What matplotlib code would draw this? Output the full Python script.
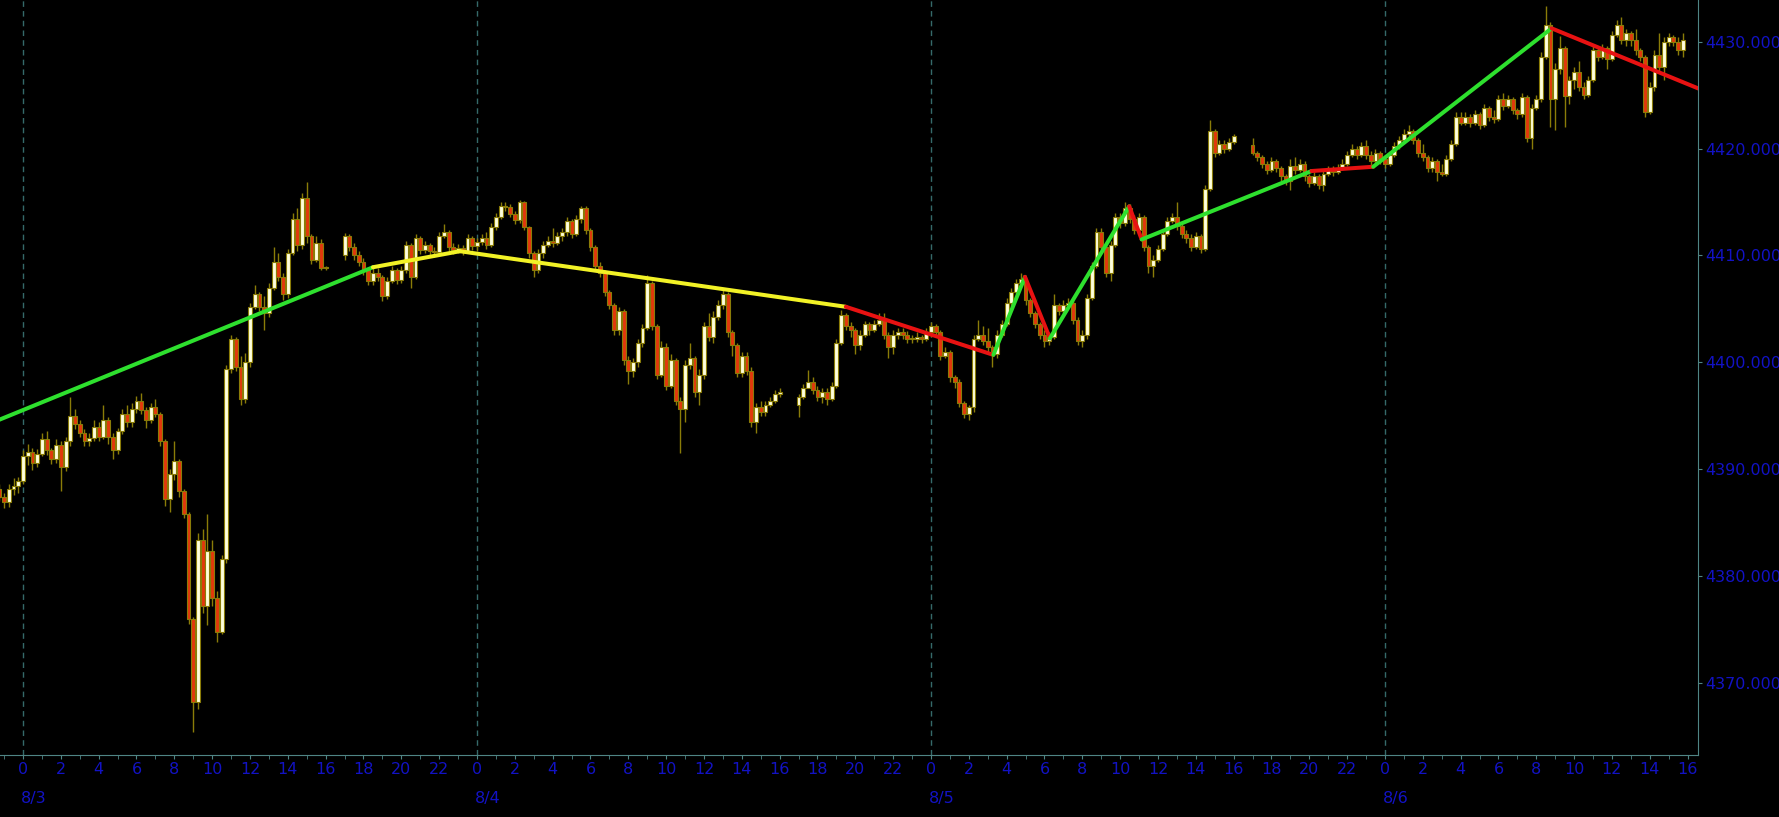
import matplotlib
matplotlib.use('Agg')
import matplotlib.pyplot as plt
from matplotlib.ticker import FixedLocator, FuncFormatter
from matplotlib.transforms import blended_transform_factory

# 15 minute candles, time axis = hours since 8/3 00:00
# each session: first candle time, first open, then close / high / low per candle
s1_start = -1.25
s1_open = 4388.2
s1_close = [4387.4, 4386.9, 4388.2, 4388.4, 4388.9,
            4391.2, 4391.6, 4390.6, 4391.4, 4392.8, 4391.8, 4391.0, 4392.3,
            4390.2, 4392.6, 4395.0, 4394.2, 4393.4, 4392.6, 4392.9, 4394.0,
            4393.0, 4394.6, 4393.0, 4391.8, 4393.6, 4395.2, 4394.4, 4395.6,
            4396.4, 4395.5, 4394.6, 4395.8, 4395.2, 4392.6, 4387.2, 4389.6,
            4390.8, 4388.0, 4385.8, 4376.0, 4368.2, 4383.4, 4377.2, 4382.4,
            4378.0, 4374.8, 4381.6, 4399.4, 4402.2, 4399.6, 4396.6, 4400.0,
            4405.2, 4406.4, 4405.2, 4404.6, 4407.0, 4409.4, 4408.0, 4406.4,
            4410.2, 4413.4, 4411.0, 4415.4, 4411.8, 4409.6, 4411.2, 4408.8,
            4408.8]
s1_high = [4388.6, 4387.8, 4388.6, 4389.2, 4389.3,
           4391.8, 4392.4, 4392.0, 4391.9, 4393.4, 4393.6, 4392.0, 4392.8,
           4392.6, 4393.0, 4396.8, 4395.6, 4394.6, 4393.8, 4393.4, 4394.6,
           4394.4, 4396.0, 4394.9, 4393.4, 4393.9, 4395.6, 4396.0, 4396.2,
           4396.9, 4397.1, 4395.8, 4396.2, 4396.6, 4395.4, 4392.8, 4390.0,
           4392.6, 4391.0, 4388.2, 4386.0, 4376.2, 4384.0, 4384.4, 4385.8,
           4383.4, 4378.6, 4382.0, 4399.8, 4402.6, 4402.4, 4400.6, 4400.9,
           4405.6, 4407.2, 4406.6, 4406.2, 4407.4, 4410.8, 4410.2, 4408.4,
           4410.6, 4414.0, 4414.4, 4415.8, 4416.9, 4412.0, 4411.8, 4411.5,
           4409.0]
s1_low = [4387.0, 4386.4, 4386.5, 4387.6, 4387.8,
          4388.6, 4390.4, 4389.9, 4390.2, 4391.2, 4391.3, 4390.5, 4390.6,
          4388.0, 4389.8, 4392.2, 4393.8, 4393.0, 4392.2, 4392.2, 4392.6,
          4392.6, 4392.8, 4392.4, 4391.0, 4391.4, 4393.3, 4394.0, 4394.0,
          4395.3, 4395.2, 4393.9, 4394.3, 4394.9, 4392.2, 4386.6, 4386.0,
          4389.0, 4387.4, 4385.4, 4375.5, 4365.4, 4367.6, 4376.6, 4375.4,
          4377.2, 4373.8, 4374.6, 4381.2, 4399.0, 4399.2, 4396.0, 4396.2,
          4399.6, 4405.0, 4404.8, 4403.0, 4404.2, 4406.8, 4407.6, 4405.8,
          4406.0, 4410.0, 4410.4, 4410.6, 4411.2, 4409.2, 4409.4, 4408.6,
          4408.6]

s2_start = 17.0
s2_open = 4410.0
s2_close = [4411.8, 4410.8, 4410.0, 4409.4, 4408.6, 4407.6, 4408.4, 4408.0,
            4406.2, 4407.6, 4408.6, 4407.7, 4408.6, 4411.0, 4408.0, 4411.6,
            4410.5, 4411.0, 4410.4, 4410.3, 4411.8, 4412.2, 4410.8, 4410.5,
            4410.7, 4410.4, 4411.6, 4410.9, 4411.3, 4411.6, 4411.0, 4412.7,
            4413.6, 4414.6, 4414.5, 4413.9, 4413.3, 4415.0, 4412.7, 4410.2,
            4408.6, 4410.2, 4411.0, 4411.4, 4411.2, 4411.8, 4412.2, 4413.2,
            4412.0, 4413.4, 4414.4, 4412.4, 4410.8, 4409.0, 4408.4, 4406.6,
            4405.4, 4403.0, 4404.8, 4400.2, 4399.2, 4400.0, 4401.8, 4403.2,
            4407.4, 4403.4, 4398.8, 4401.4, 4397.8, 4400.2, 4396.4, 4395.6,
            4399.8, 4400.4, 4397.2, 4398.8, 4403.4, 4402.4, 4404.2, 4405.4,
            4406.4, 4402.8, 4401.6, 4399.0, 4400.6, 4399.2, 4394.4, 4395.8,
            4395.4, 4396.0, 4396.4, 4397.0, 4397.2]
s2_high = [4412.1, 4412.0, 4411.2, 4410.4, 4409.8, 4408.8, 4408.8, 4408.8,
           4408.2, 4408.0, 4409.0, 4408.8, 4409.0, 4411.4, 4411.2, 4412.0,
           4411.8, 4411.4, 4411.2, 4410.8, 4412.2, 4412.9, 4412.4, 4411.2,
           4411.1, 4411.0, 4412.0, 4411.8, 4411.6, 4412.0, 4412.2, 4413.0,
           4414.0, 4415.0, 4415.0, 4414.8, 4414.2, 4415.2, 4415.1, 4412.8,
           4410.4, 4410.6, 4411.4, 4411.8, 4412.6, 4412.2, 4412.6, 4413.6,
           4413.4, 4413.8, 4414.6, 4414.6, 4412.6, 4411.0, 4409.4, 4408.6,
           4406.8, 4405.6, 4405.2, 4405.0, 4400.6, 4400.4, 4402.2, 4403.6,
           4408.2, 4407.6, 4403.6, 4402.0, 4401.8, 4400.8, 4400.4, 4396.8,
           4400.2, 4401.8, 4400.6, 4399.4, 4403.8, 4404.6, 4404.8, 4405.8,
           4406.8, 4406.6, 4403.0, 4401.8, 4401.0, 4401.0, 4399.6, 4396.2,
           4396.4, 4396.4, 4396.8, 4397.4, 4397.6]
s2_low = [4409.6, 4410.4, 4409.6, 4409.0, 4408.2, 4407.2, 4407.2, 4407.6,
          4405.7, 4405.9, 4407.4, 4407.3, 4407.4, 4408.4, 4407.0, 4407.8,
          4410.1, 4410.2, 4410.0, 4409.9, 4410.0, 4411.6, 4410.4, 4410.1,
          4410.2, 4410.0, 4410.2, 4410.5, 4410.4, 4411.0, 4410.6, 4410.8,
          4412.4, 4413.4, 4414.2, 4413.6, 4412.9, 4413.0, 4412.4, 4409.8,
          4408.0, 4408.4, 4409.8, 4410.8, 4410.8, 4411.0, 4411.4, 4411.8,
          4411.6, 4411.8, 4413.0, 4412.0, 4410.4, 4408.6, 4408.0, 4406.2,
          4405.0, 4402.6, 4402.6, 4399.8, 4398.0, 4398.6, 4399.6, 4401.4,
          4403.0, 4403.0, 4398.4, 4398.6, 4397.4, 4397.6, 4396.0, 4391.5,
          4394.4, 4399.4, 4396.8, 4396.0, 4398.4, 4402.0, 4401.8, 4404.0,
          4405.0, 4402.4, 4400.6, 4398.6, 4398.6, 4398.8, 4394.0, 4393.4,
          4395.0, 4395.0, 4395.8, 4396.2, 4396.8]

s3_start = 41.0
s3_open = 4396.0
s3_close = [4396.8, 4397.6, 4398.2, 4397.4, 4396.8, 4397.2, 4396.6, 4397.8,
            4401.8, 4404.4, 4403.4, 4403.0, 4401.6, 4402.6, 4403.6, 4403.0,
            4403.6, 4404.0, 4402.6, 4401.4, 4402.6, 4402.8, 4402.6, 4402.2,
            4402.2, 4402.4, 4402.2, 4402.8, 4403.4, 4402.8, 4400.6, 4401.0,
            4398.6, 4398.2, 4396.2, 4395.2, 4395.8, 4402.2, 4402.6, 4402.0,
            4401.4, 4400.8, 4402.6, 4403.6, 4405.6, 4406.6, 4407.4, 4407.8,
            4405.8, 4404.6, 4403.6, 4402.6, 4402.0, 4402.4, 4405.4, 4404.8,
            4405.4, 4405.6, 4404.0, 4402.0, 4402.6, 4406.0, 4409.0, 4412.2,
            4410.8, 4408.4, 4411.0, 4413.6, 4413.0, 4414.4, 4413.4, 4412.4,
            4413.6, 4410.8, 4409.0, 4409.6, 4410.6, 4412.0, 4413.2, 4413.6,
            4412.8, 4412.0, 4411.6, 4410.8, 4411.8, 4410.6, 4416.2, 4421.6,
            4419.6, 4420.4, 4420.0, 4420.6, 4421.2]
s3_high = [4397.0, 4398.0, 4399.3, 4398.6, 4397.8, 4397.6, 4397.6, 4398.2,
           4402.2, 4404.9, 4404.6, 4403.8, 4403.2, 4403.0, 4403.9, 4403.8,
           4404.0, 4404.6, 4404.6, 4402.8, 4403.0, 4403.2, 4403.2, 4402.9,
           4402.6, 4402.8, 4402.6, 4403.2, 4403.8, 4403.6, 4403.0, 4401.4,
           4401.2, 4398.8, 4398.4, 4396.4, 4396.0, 4402.6, 4404.0, 4403.4,
           4403.2, 4401.6, 4403.0, 4404.0, 4406.0, 4407.0, 4407.8, 4408.4,
           4408.0, 4406.0, 4404.8, 4403.8, 4403.0, 4402.8, 4406.4, 4405.6,
           4405.8, 4406.0, 4405.8, 4404.2, 4403.0, 4406.4, 4409.4, 4412.6,
           4412.6, 4411.0, 4411.4, 4414.0, 4414.0, 4415.0, 4414.8, 4413.8,
           4414.0, 4413.8, 4411.0, 4410.0, 4411.0, 4412.4, 4413.6, 4414.0,
           4415.0, 4413.0, 4412.4, 4412.0, 4412.2, 4412.0, 4416.6, 4422.7,
           4421.8, 4420.8, 4420.8, 4421.0, 4421.4]
s3_low = [4394.9, 4396.6, 4397.6, 4397.0, 4396.4, 4396.2, 4396.0, 4396.4,
          4397.6, 4401.6, 4403.0, 4402.4, 4400.8, 4401.2, 4402.4, 4402.6,
          4402.8, 4403.4, 4402.2, 4400.4, 4400.8, 4402.2, 4402.2, 4401.8,
          4401.8, 4401.9, 4401.8, 4402.0, 4402.4, 4402.4, 4400.2, 4400.4,
          4398.2, 4397.6, 4395.8, 4394.8, 4394.6, 4395.4, 4402.0, 4401.6,
          4401.0, 4399.6, 4400.4, 4402.4, 4403.4, 4405.2, 4406.4, 4407.2,
          4405.4, 4404.2, 4403.2, 4402.2, 4401.4, 4401.6, 4402.2, 4404.4,
          4404.6, 4405.0, 4403.6, 4401.6, 4401.4, 4402.2, 4405.8, 4408.8,
          4410.4, 4408.0, 4407.6, 4410.8, 4412.6, 4412.8, 4413.0, 4412.0,
          4412.0, 4410.4, 4408.4, 4408.0, 4409.4, 4410.4, 4411.8, 4413.0,
          4412.4, 4411.6, 4411.2, 4410.4, 4410.6, 4410.2, 4410.4, 4416.0,
          4419.2, 4419.4, 4419.6, 4419.8, 4420.4]

s4_start = 65.0
s4_open = 4420.3
s4_close = [4419.6, 4419.2, 4418.6, 4418.0, 4418.8, 4418.2, 4417.4, 4417.0,
            4418.4, 4418.0, 4418.6, 4417.4, 4416.8, 4417.4, 4416.6, 4417.6,
            4418.0, 4417.8, 4418.2, 4418.6, 4419.4, 4420.0, 4419.4, 4420.2,
            4419.4, 4418.8, 4419.6, 4419.0, 4418.6, 4419.4, 4420.2, 4420.8,
            4421.4, 4421.6, 4420.8, 4419.6, 4419.2, 4418.2, 4418.8, 4417.8,
            4417.6, 4419.0, 4420.4, 4423.0, 4422.4, 4423.0, 4422.4, 4423.2,
            4422.2, 4423.8, 4423.0, 4422.8, 4424.6, 4424.0, 4424.6, 4423.6,
            4423.2, 4424.8, 4421.0, 4423.8, 4424.6, 4428.6, 4431.6, 4424.6,
            4427.4, 4429.4, 4424.9, 4426.4, 4427.2, 4425.8, 4425.0, 4426.4,
            4429.2, 4428.6, 4429.4, 4428.4, 4430.6, 4431.6, 4430.2, 4430.8,
            4430.2, 4429.2, 4428.6, 4423.4, 4425.8, 4428.8, 4427.6, 4430.0,
            4430.4, 4430.0, 4429.2, 4430.2]
s4_high = [4421.0, 4419.8, 4419.4, 4418.8, 4419.2, 4419.0, 4418.4, 4417.6,
           4419.0, 4419.2, 4419.0, 4418.8, 4417.6, 4417.8, 4417.6, 4418.0,
           4418.4, 4418.4, 4418.6, 4419.0, 4419.8, 4420.4, 4420.2, 4420.6,
           4420.8, 4419.8, 4420.0, 4419.8, 4419.4, 4419.8, 4420.6, 4421.2,
           4421.8, 4422.2, 4421.8, 4421.0, 4420.4, 4419.4, 4419.2, 4419.0,
           4418.6, 4419.4, 4420.8, 4423.4, 4423.4, 4423.4, 4423.2, 4423.6,
           4423.4, 4424.2, 4424.0, 4423.6, 4425.0, 4425.2, 4425.0, 4424.8,
           4423.8, 4425.2, 4425.0, 4424.2, 4425.0, 4429.0, 4433.3, 4431.8,
           4428.0, 4430.5, 4429.6, 4426.8, 4427.6, 4428.2, 4426.2, 4426.8,
           4429.6, 4429.6, 4429.8, 4429.6, 4431.0, 4432.0, 4432.3, 4431.2,
           4431.0, 4431.2, 4429.4, 4428.8, 4426.2, 4429.2, 4430.8, 4430.4,
           4430.8, 4430.6, 4430.4, 4430.8]
s4_low = [4419.4, 4418.8, 4418.2, 4417.6, 4417.8, 4417.8, 4417.0, 4416.6,
          4416.1, 4417.6, 4417.8, 4417.0, 4416.4, 4416.6, 4416.2, 4416.0,
          4417.4, 4417.4, 4417.6, 4418.0, 4418.4, 4419.2, 4419.0, 4419.2,
          4419.0, 4418.4, 4418.6, 4418.6, 4418.2, 4418.4, 4419.2, 4420.0,
          4420.6, 4421.0, 4420.4, 4419.2, 4418.8, 4417.8, 4417.8, 4417.0,
          4417.4, 4417.4, 4418.8, 4420.2, 4422.2, 4422.2, 4422.0, 4422.2,
          4421.8, 4422.0, 4422.6, 4422.4, 4422.6, 4423.6, 4423.8, 4423.2,
          4422.8, 4423.0, 4420.6, 4420.0, 4423.6, 4424.4, 4428.4, 4422.0,
          4421.7, 4427.0, 4422.0, 4424.2, 4425.6, 4425.4, 4424.6, 4424.8,
          4426.2, 4428.2, 4428.4, 4427.4, 4428.2, 4430.4, 4429.8, 4429.6,
          4429.6, 4428.8, 4428.2, 4423.0, 4423.2, 4425.4, 4427.2, 4426.4,
          4429.6, 4429.6, 4428.8, 4428.6]

# zigzag trend line: pivots and colour of each leg
zz_time = [-1.3, 18.5, 23.1, 43.5, 51.3, 52.97, 54.29, 58.48, 59.14, 68.12, 71.38, 80.81, 88.6]
zz_price = [4394.6, 4408.9, 4410.4, 4405.2, 4400.7, 4408.0, 4402.25, 4414.6, 4411.5,
            4417.9, 4418.3, 4431.25, 4425.6]
zz_colors = ['#2ee02e', '#f2f226', '#f2f226', '#e81212', '#2ee02e', '#e81212', '#2ee02e',
             '#e81212', '#2ee02e', '#e81212', '#2ee02e', '#e81212']

days = [0, 24, 48, 72]
day_labels = ['8/3', '8/4', '8/5', '8/6']
price_ticks = [4370, 4380, 4390, 4400, 4410, 4420, 4430]

bull_color = '#ffffdc'
bear_color = '#e2380c'
edge_color = '#8a7c08'
axis_color = '#4f8585'
text_color = '#1212c4'


def draw_candles(ax, start, first_open, close, high, low):
    opens = [first_open] + close[:-1]
    times = [start + 0.25 * i for i in range(len(close))]
    ax.vlines(times, low, high, color=edge_color, lw=1, zorder=2)
    bottoms = [min(o, c) for o, c in zip(opens, close)]
    heights = [max(abs(c - o), 0.12) for o, c in zip(opens, close)]
    colors = [bull_color if c >= o else bear_color for o, c in zip(opens, close)]
    ax.bar(times, heights, bottom=bottoms, width=0.205, color=colors,
           edgecolor=edge_color, linewidth=0.8, zorder=3)


fig = plt.figure(figsize=(17.79, 8.17), dpi=100, facecolor='black')
ax = fig.add_axes([0, 62 / 817, 1698 / 1779, 755 / 817], facecolor='black')

for d in days:
    ax.axvline(d, color='#356a6a', lw=1, ls=(0, (4, 3)), zorder=1)

draw_candles(ax, s1_start, s1_open, s1_close, s1_high, s1_low)
draw_candles(ax, s2_start, s2_open, s2_close, s2_high, s2_low)
draw_candles(ax, s3_start, s3_open, s3_close, s3_high, s3_low)
draw_candles(ax, s4_start, s4_open, s4_close, s4_high, s4_low)

for i, col in enumerate(zz_colors):
    ax.plot(zz_time[i:i + 2], zz_price[i:i + 2], color=col, lw=2.9,
            solid_capstyle='round', zorder=4)

ax.set_xlim(-1.216, 88.55)
ax.set_ylim(4363.27, 4433.9)

ax.spines['left'].set_visible(False)
ax.spines['top'].set_visible(False)
ax.spines['right'].set_color(axis_color)
ax.spines['bottom'].set_color(axis_color)

ax.yaxis.tick_right()
ax.yaxis.set_major_locator(FixedLocator(price_ticks))
ax.yaxis.set_major_formatter(FuncFormatter(lambda v, p: f'{v:.3f}'))
ax.tick_params(axis='y', colors=axis_color, labelcolor=text_color,
               labelsize=11.5, length=3, pad=2.5)

ax.xaxis.set_major_locator(FixedLocator(list(range(0, 89, 2))))
ax.xaxis.set_minor_locator(FixedLocator(list(range(-1, 89))))
ax.xaxis.set_major_formatter(FuncFormatter(lambda v, p: str(int(round(v)) % 24)))
ax.tick_params(axis='x', which='both', colors=axis_color, labelcolor=text_color,
               labelsize=11.5, length=3, pad=2)

trans = blended_transform_factory(ax.transData, ax.transAxes)
for d, lab in zip(days, day_labels):
    ax.text(d - 0.1, -0.057, lab, transform=trans, color=text_color,
            fontsize=11.5, ha='left', va='center')

fig.savefig('out.png', dpi=100, facecolor='black')
